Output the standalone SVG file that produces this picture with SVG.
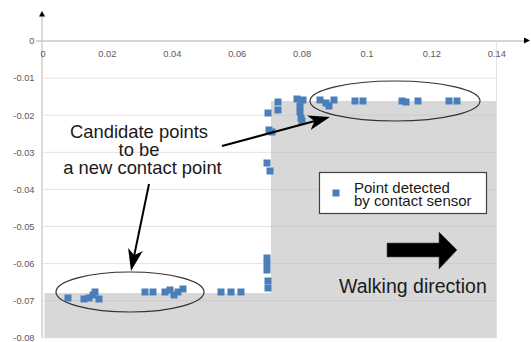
<svg xmlns="http://www.w3.org/2000/svg" xmlns:xlink="http://www.w3.org/1999/xlink" width="531" height="342" viewBox="0 0 531 342">
  <style>
    .tick { font-family: "Liberation Sans", Arial, sans-serif; font-size: 9.3px; fill: #595959; }
    .note { font-family: "Liberation Sans", Arial, sans-serif; font-size: 18.4px; fill: #1a1a1a; text-anchor: middle; }
    .leg { font-family: "Liberation Sans", Arial, sans-serif; font-size: 15px; fill: #1a1a1a; }
    .walk { font-family: "Liberation Sans", Arial, sans-serif; font-size: 19.5px; fill: #1a1a1a; }
    .grid line { stroke: #e3e3e3; stroke-width: 1; }
    .axis { stroke: #c8c8c8; stroke-width: 1.3; fill: none; }
    .ring { fill: none; stroke: #333; stroke-width: 1.2; }
    .lead { stroke: #000; stroke-width: 2; fill: none; marker-end: url(#barb); }
  </style>
  <defs>
    <rect id="pt" x="-3.5" y="-3.5" width="7" height="7" fill="#4a7ebb"/>
    <marker id="barb" markerUnits="userSpaceOnUse" markerWidth="24" markerHeight="16" refX="18" refY="7.5" orient="auto" viewBox="0 0 24 16">
      <path d="M0,0 L22,7.5 L0,15 L6,7.5 Z" fill="#000"/>
    </marker>
  </defs>

  <rect width="531" height="342" fill="#fff"/>

  <!-- horizontal gridlines -->
  <g class="grid" id="grid">
    <line x1="43" y1="78.1" x2="496" y2="78.1"/>
    <line x1="43" y1="115.2" x2="496" y2="115.2"/>
    <line x1="43" y1="152.3" x2="496" y2="152.3"/>
    <line x1="43" y1="189.4" x2="496" y2="189.4"/>
    <line x1="43" y1="226.5" x2="496" y2="226.5"/>
    <line x1="43" y1="263.6" x2="496" y2="263.6"/>
    <line x1="43" y1="300.7" x2="496" y2="300.7"/>
    <line x1="43" y1="337.8" x2="496" y2="337.8"/>
  </g>

  <!-- shaded step profile -->
  <path id="contact-region" d="M44.5,293 H271 V101 H496 V337.5 H44.5 Z" fill="#bcbcbc" fill-opacity="0.58"/>

  <!-- axes -->
  <g id="axes">
    <line class="axis" x1="36" y1="41" x2="525" y2="41"/>
    <line class="axis" x1="42" y1="16" x2="42" y2="338"/>
    <line x1="496.5" y1="41" x2="496.5" y2="338" stroke="#e3e3e3" stroke-width="1"/>
    <path d="M530,40.5 L524,37.5 L524,43.5 Z" fill="#000"/>
    <path d="M42,11 L39,16.5 L45,16.5 Z" fill="#000"/>
    <g class="tick" text-anchor="middle">
      <text x="43" y="57">0</text>
      <text x="107.4" y="57">0.02</text>
      <text x="172.3" y="57">0.04</text>
      <text x="237.2" y="57">0.06</text>
      <text x="302.1" y="57">0.08</text>
      <text x="367" y="57">0.1</text>
      <text x="431.9" y="57">0.12</text>
      <text x="496.8" y="57">0.14</text>
    </g>
    <g class="tick" text-anchor="end">
      <text x="34.5" y="44.3">0</text>
      <text x="34.5" y="81.4">-0.01</text>
      <text x="34.5" y="118.5">-0.02</text>
      <text x="34.5" y="155.6">-0.03</text>
      <text x="34.5" y="192.7">-0.04</text>
      <text x="34.5" y="229.8">-0.05</text>
      <text x="34.5" y="266.9">-0.06</text>
      <text x="34.5" y="304">-0.07</text>
      <text x="34.5" y="341.1">-0.08</text>
    </g>
  </g>

  <!-- contact sensor samples -->
  <g id="points">
    <use xlink:href="#pt" x="68" y="298"/>
    <use xlink:href="#pt" x="84" y="299"/>
    <use xlink:href="#pt" x="89" y="298"/>
    <use xlink:href="#pt" x="93" y="295"/>
    <use xlink:href="#pt" x="95" y="292"/>
    <use xlink:href="#pt" x="99" y="299"/>
    <use xlink:href="#pt" x="145" y="292"/>
    <use xlink:href="#pt" x="153" y="292"/>
    <use xlink:href="#pt" x="165" y="292"/>
    <use xlink:href="#pt" x="170" y="290"/>
    <use xlink:href="#pt" x="174" y="295"/>
    <use xlink:href="#pt" x="178" y="292"/>
    <use xlink:href="#pt" x="183" y="289"/>
    <use xlink:href="#pt" x="221" y="292"/>
    <use xlink:href="#pt" x="231" y="292"/>
    <use xlink:href="#pt" x="241" y="292"/>
    <use xlink:href="#pt" x="267" y="258"/>
    <use xlink:href="#pt" x="267" y="264"/>
    <use xlink:href="#pt" x="267" y="270"/>
    <use xlink:href="#pt" x="268" y="281"/>
    <use xlink:href="#pt" x="268" y="288"/>
    <use xlink:href="#pt" x="267" y="163"/>
    <use xlink:href="#pt" x="270" y="171"/>
    <use xlink:href="#pt" x="268" y="113"/>
    <use xlink:href="#pt" x="269" y="130"/>
    <use xlink:href="#pt" x="272" y="132"/>
    <use xlink:href="#pt" x="278" y="102"/>
    <use xlink:href="#pt" x="278" y="110"/>
    <use xlink:href="#pt" x="297" y="99"/>
    <use xlink:href="#pt" x="303" y="100"/>
    <use xlink:href="#pt" x="300" y="106"/>
    <use xlink:href="#pt" x="300" y="112"/>
    <use xlink:href="#pt" x="301" y="118"/>
    <use xlink:href="#pt" x="302" y="121"/>
    <use xlink:href="#pt" x="320" y="100"/>
    <use xlink:href="#pt" x="326" y="103"/>
    <use xlink:href="#pt" x="334" y="100"/>
    <use xlink:href="#pt" x="329" y="106"/>
    <use xlink:href="#pt" x="355" y="101"/>
    <use xlink:href="#pt" x="363" y="101"/>
    <use xlink:href="#pt" x="402" y="101"/>
    <use xlink:href="#pt" x="406" y="102"/>
    <use xlink:href="#pt" x="418" y="101"/>
    <use xlink:href="#pt" x="449" y="101"/>
    <use xlink:href="#pt" x="457" y="101"/>
  </g>

  <!-- candidate groups -->
  <g id="candidates-upper">
    <ellipse class="ring" cx="395" cy="101" rx="85" ry="20"/>
  </g>
  <g id="candidates-lower">
    <ellipse class="ring" cx="130" cy="292" rx="74" ry="20"/>
  </g>

  <!-- callout label -->
  <g id="callout">
    <text class="note" x="139" y="137.5">Candidate points</text>
    <text class="note" x="139" y="155.5">to be</text>
    <text class="note" x="142.5" y="174">a new contact point</text>
  </g>

  <!-- leader arrows from the label to the candidate groups -->
  <g id="connectors">
    <line class="lead" x1="222" y1="146" x2="326.1" y2="118"/>
    <line class="lead" x1="149" y1="184" x2="131.8" y2="267.1"/>
  </g>

  <!-- legend -->
  <g id="legend">
    <rect x="319.5" y="172.5" width="167" height="41" fill="#fff" stroke="#404040" stroke-width="1.2"/>
    <use xlink:href="#pt" x="336" y="193"/>
    <text class="leg" x="354" y="192.5">Point detected</text>
    <text class="leg" x="354" y="206">by contact sensor</text>
  </g>

  <!-- walking direction -->
  <g id="walking">
    <path d="M387,243 H439 V232 L457,250 L439,269 V257 H387 Z" fill="#000" stroke="#555" stroke-width="0.6"/>
    <text class="walk" x="339" y="292.7">Walking direction</text>
  </g>
</svg>
